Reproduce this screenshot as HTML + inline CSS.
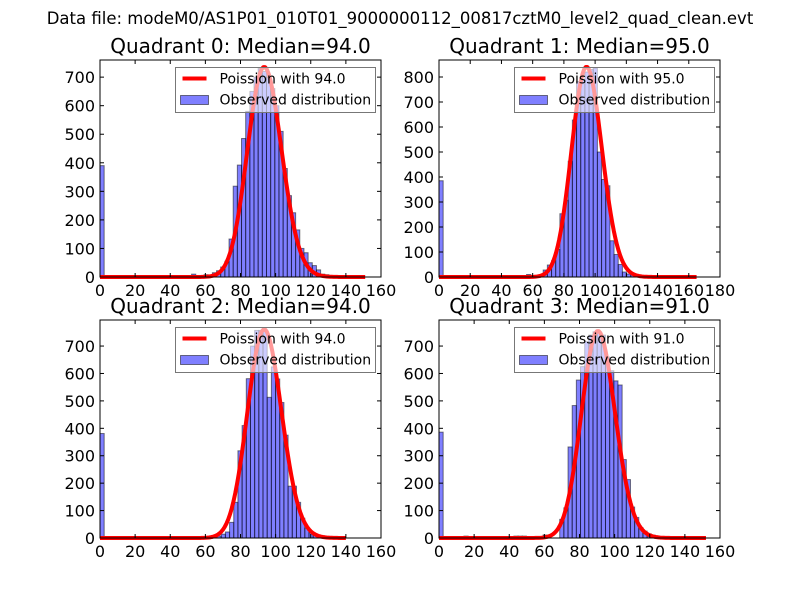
<!DOCTYPE html>
<html><head><meta charset="utf-8"><style>
body{margin:0;background:#fff}
svg{display:block;font-family:"DejaVu Sans","Liberation Sans",sans-serif}
</style></head><body>
<svg id="fig" width="800" height="600" viewBox="0 0 800 600">
<rect width="800" height="600" fill="#fff"/>
<text x="400" y="24" text-anchor="middle" font-size="16.5">Data file: modeM0/AS1P01_010T01_9000000112_00817cztM0_level2_quad_clean.evt</text>
</svg>
<script>
// Data
const quadNames = ["Quadrant 0", "Quadrant 1", "Quadrant 2", "Quadrant 3"];
const medians = [94.0, 95.0, 94.0, 91.0];
const binWidths = [2.37, 2.67, 2.38, 2.37];
const zeroBinCounts = [390, 385, 381, 386];
const q0Start = 22;
const q0Counts = [10,0,0,8,0,15,22,35,55,133,318,392,485,580,650,700,730,720,700,660,600,510,380,285,225,165,100,85,50,40,25,10,8,3];
const q1Start = 21;
const q1Counts = [10,3,6,10,28,48,65,110,253,307,463,628,782,790,820,830,836,500,390,365,145,90,50,20,12,8,4];
const q2Start = 22;
const q2Counts = [5,0,0,0,0,0,7,14,22,57,130,318,410,581,700,757,757,757,513,624,580,494,375,189,189,130,72,36,19,10,5];
const q3Start = 6;
const q3Counts = [7,0,0,0,0,0,0,0,0,0,0,0,7,7,7,0,0,0,0,11,0,0,0,68,110,332,483,576,625,716,740,752,752,740,660,610,573,558,286,213,113,75,38,25,15,10,5];
const curveNorms = [17880, 20540, 18490, 18060];
const curveMax = [151, 165, 140, 152];
const xMaxes = [160, 180, 160, 160];
const yMaxes = [760, 868, 795, 795];
const xTickStep = [20, 20, 20, 20];
const yTickStep = [100, 100, 100, 100];

const starts = [q0Start, q1Start, q2Start, q3Start];
const countsAll = [q0Counts, q1Counts, q2Counts, q3Counts];
const boxes = [[100,60,381,277],[439,60,720,277],[100,320,381,538],[439,320,720,538]];
const NS = "http://www.w3.org/2000/svg";
const svg = document.getElementById('fig');
function mk(tag, attrs, parent){const e=document.createElementNS(NS,tag);for(const k in attrs)e.setAttribute(k,attrs[k]);(parent||svg).appendChild(e);return e;}
function lgamma(z){const c=[76.18009172947146,-86.50532032941677,24.01409824083091,-1.231739572450155,0.1208650973866179e-2,-0.5395239384953e-5];let x=z,y=z,t=x+5.5;t-=(x+0.5)*Math.log(t);let s=1.000000000190015;for(let j=0;j<6;j++)s+=c[j]/++y;return -t+Math.log(2.5066282746310005*s/x);}
function pois(k,l){return Math.exp(k*Math.log(l)-l-lgamma(k+1));}

for(let q=0;q<4;q++){
  const [L,T,R,B]=boxes[q];
  const xs=v=>L+v/xMaxes[q]*(R-L);
  const ys=v=>B-v/yMaxes[q]*(B-T);
  const g=mk('g',{});
  
  
  const t=mk('text',{x:(L+R)/2,y:T-7,'text-anchor':'middle','font-size':20},g);
  t.textContent=quadNames[q]+": Median="+medians[q].toFixed(1);
  
  
  const w=binWidths[q];
  const bars=[[0,zeroBinCounts[q]]];
  countsAll[q].forEach((c,i)=>bars.push([starts[q]+i,c]));
  bars.forEach(([i,c])=>{
    if(c<=0)return;
    const x0=xs(i*w),x1=xs((i+1)*w);
    const r=mk('rect',{x:x0,y:ys(c),width:x1-x0,height:ys(0)-ys(c),fill:'rgba(0,0,255,0.5)',stroke:'rgba(0,0,0,0.5)','stroke-width':1},g);
    
    
  });
  let d='';
  for(let k=0;k<=curveMax[q];k++){d+=(k?'L':'M')+xs(k).toFixed(2)+','+ys(curveNorms[q]*pois(k,medians[q])).toFixed(2);}
  const p=mk('path',{d:d,fill:'none',stroke:'#f00','stroke-width':4,'stroke-linejoin':'round'},g);
  
  
  for(let v=0;v<=xMaxes[q];v+=xTickStep[q]){
    const x=xs(v);
    mk('line',{x1:x,y1:B,x2:x,y2:B-4,stroke:'#000'},g);
    mk('line',{x1:x,y1:T,x2:x,y2:T+4,stroke:'#000'},g);
    const tl=mk('text',{x:x,y:B+19,'text-anchor':'middle','font-size':16},g);
    tl.textContent=v;
    
    
  }
  for(let v=0;v<=yMaxes[q];v+=yTickStep[q]){
    const y=ys(v);
    mk('line',{x1:L,y1:y,x2:L+4,y2:y,stroke:'#000'},g);
    mk('line',{x1:R,y1:y,x2:R-4,y2:y,stroke:'#000'},g);
    const tl=mk('text',{x:L-5,y:y+6,'text-anchor':'end','font-size':16},g);
    tl.textContent=v;
    
    
  }
  const fr=mk('rect',{x:L,y:T,width:R-L,height:B-T,fill:'none',stroke:'#000','stroke-width':1},g);
  
  
  const lg=mk('g',{},g);
  
  
  const lx=L+75.5,ly=T+7.5;
  mk('rect',{x:lx,y:ly,width:200,height:45,fill:'rgba(255,255,255,0.6)',stroke:'#777','stroke-width':1},lg);
  mk('line',{x1:lx+7,y1:ly+11,x2:lx+31,y2:ly+11,stroke:'#f00','stroke-width':4},lg);
  const lt1=mk('text',{x:lx+44,y:ly+16,'font-size':14},lg);
  lt1.textContent='Poission with '+medians[q].toFixed(1);
  
  
  mk('rect',{x:lx+5,y:ly+28,width:28,height:9,fill:'rgba(0,0,255,0.5)',stroke:'rgba(0,0,0,0.5)'},lg);
  const lt2=mk('text',{x:lx+44,y:ly+37,'font-size':14},lg);
  lt2.textContent='Observed distribution';
  
  
}
</script>
</body></html>
